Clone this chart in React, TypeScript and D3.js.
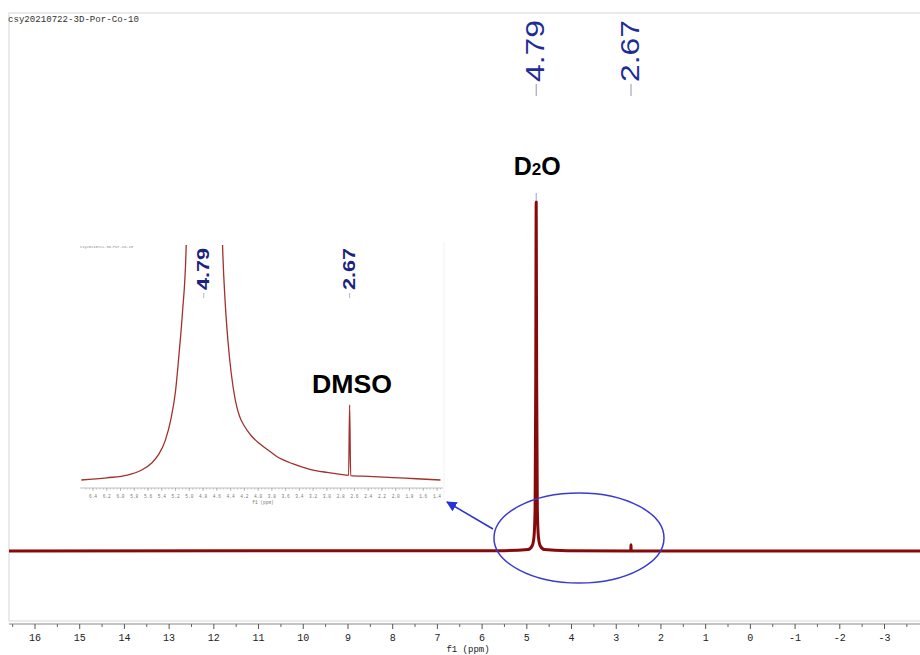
import React from "react";
import * as d3 from "d3";

// ---------- data ----------
const title = "csy20210722-3D-Por-Co-10";
const axisTicks = [16, 15, 14, 13, 12, 11, 10, 9, 8, 7, 6, 5, 4, 3, 2, 1, 0, -1, -2, -3];
const axisLabel = "f1 (ppm)";

// main spectrum (ppm, relative intensity; D2O apex = 100)
const mainPpm = [16.6, 5.5, 4.97, 4.88, 4.84, 4.815, 4.8, 4.79, 4.78, 4.765, 4.74, 4.7, 4.61, 4.1, 2.68, 2.672, 2.67, 2.668, 2.66, -3.9];
const mainInt = [0, 0.1, 0.4, 1.5, 4, 12, 50, 100, 50, 12, 4, 1.5, 0.4, 0.1, 0, 0.6, 1.8, 0.6, 0, 0];
const mainPeaks = [4.79, 2.67];
const mainPeakText = ["4.79", "2.67"];

// inset (zoomed 6.6 – 1.35 ppm; inset axis top = 100)
const insetPpm = [6.57, 6.2, 5.9, 5.7, 5.55, 5.45, 5.35, 5.27, 5.2, 5.15, 5.1, 5.045, 4.95, 4.79, 4.62, 4.517, 4.48, 4.44, 4.39, 4.33, 4.27, 4.2, 4.1, 3.99, 3.85, 3.74, 3.5, 3.26, 3.0, 2.72, 2.685, 2.67, 2.655, 2.4, 2.04, 1.7, 1.35];
const insetInt = [3.3, 4.2, 5.3, 7.3, 10.2, 13.6, 19.5, 28, 40, 55, 72, 100, 300, 1500, 300, 100, 77, 61, 47, 36, 29.5, 25.5, 21.5, 18.5, 15.5, 13.2, 10, 7.8, 6.4, 5.3, 5.2, 34.2, 5.1, 4.8, 4.3, 3.8, 3.3];
const insetTicks = [6.4, 6.2, 6.0, 5.8, 5.6, 5.4, 5.2, 5.0, 4.8, 4.6, 4.4, 4.2, 4.0, 3.8, 3.6, 3.4, 3.2, 3.0, 2.8, 2.6, 2.4, 2.2, 2.0, 1.8, 1.6, 1.4];
const insetPeaks = [4.79, 2.67];
const insetPeakText = ["4.79", "2.67"];
const solventD2O = "D2O";
const solventDMSO = "DMSO";

// ---------- component ----------
export default function App() {
  const W = 920, H = 655;
  const x = d3.scaleLinear().domain([16, -3]).range([35, 884.5]);
  const y = d3.scaleLinear().domain([0, 100]).range([551, 202]);
  const xi = d3.scaleLinear().domain([6.4, 1.4]).range([93, 437]);
  const yi = d3.scaleLinear().domain([0, 100]).range([488, 245]);

  const mainData = mainPpm.map((p, i) => [p, mainInt[i]] as [number, number]);
  const insetData = insetPpm.map((p, i) => [p, insetInt[i]] as [number, number]);

  const mainLine = d3.line<[number, number]>().x(d => x(d[0])).y(d => y(d[1])).curve(d3.curveMonotoneX);
  const insetLine = d3.line<[number, number]>().x(d => xi(d[0])).y(d => yi(d[1])).curve(d3.curveMonotoneX);

  const minor: number[] = [];
  for (let v = 16.5; v >= -3.5; v -= 1) minor.push(v);
  const insetMinor: number[] = [];
  for (let k = 0; k <= 104; k++) insetMinor.push(6.5 - k * 0.05);

  const mono = "'Liberation Mono', 'DejaVu Sans Mono', monospace";
  const sans = "'Liberation Sans', Arial, sans-serif";
  const axisY = 624;

  return (
    <svg width={W} height={H} style={{ position: "absolute", left: 0, top: 0, background: "#fff" }}>
      <defs>
        <clipPath id="mainClip"><rect x={9} y={13} width={911} height={608} /></clipPath>
        <clipPath id="insetClip"><rect x={78} y={245} width={366} height={250} /></clipPath>
        <marker id="arr" viewBox="0 0 10 10" refX="9" refY="5" markerWidth="7" markerHeight="7" orient="auto">
          <path d="M0,0 L10,5 L0,10 z" fill="#2633d0" />
        </marker>
      </defs>

      {/* frame */}
      <rect x={9} y={13} width={920} height={608} fill="none" stroke="#d6d6d6" strokeWidth={1} />
      <text x={8} y={22} fontFamily={mono} fontSize={9.5} fill="#333" textLength={131} lengthAdjust="spacingAndGlyphs">{title}</text>

      {/* main axis */}
      <line x1={9} x2={920} y1={axisY} y2={axisY} stroke="#8a8a8a" strokeWidth={1} />
      {axisTicks.map(t => (
        <g key={"t" + t}>
          <line x1={x(t)} x2={x(t)} y1={axisY} y2={axisY + 5} stroke="#555" />
          <text x={x(t)} y={641} textAnchor="middle" fontFamily={mono} fontSize={10} fill="#222">{t}</text>
        </g>
      ))}
      {minor.map(t => (
        <line key={"m" + t} x1={x(t)} x2={x(t)} y1={axisY} y2={axisY + 3} stroke="#666" />
      ))}
      <text x={468} y={652} textAnchor="middle" fontFamily={mono} fontSize={9} fill="#222">{axisLabel}</text>

      {/* main spectrum */}
      <path d={mainLine(mainData) || ""} fill="none" stroke="#860a0a" strokeWidth={3} strokeLinejoin="round" clipPath="url(#mainClip)" />

      {/* main peak labels */}
      {mainPeaks.map((p, i) => (
        <g key={"pl" + i}>
          <text transform={`translate(${x(p) + 8},82) rotate(-90)`} fontFamily={sans} fontSize={25} fill="#1e2c96" textLength={62} lengthAdjust="spacingAndGlyphs">{mainPeakText[i]}</text>
          <line x1={x(p)} x2={x(p)} y1={84} y2={96} stroke="#8f94b8" strokeWidth={1} />
        </g>
      ))}

      {/* D2O label */}
      <text x={x(mainPeaks[0]) + 1} y={175} textAnchor="middle" fontFamily={sans} fontWeight="bold" fontSize={25} fill="#000">
        {solventD2O[0]}<tspan fontSize={17}>{solventD2O[1]}</tspan>{solventD2O[2]}
      </text>
      <line x1={x(mainPeaks[0])} x2={x(mainPeaks[0])} y1={193} y2={201} stroke="#9aa0c8" strokeWidth={1} />

      {/* ellipse and arrow */}
      <ellipse cx={579} cy={538} rx={85} ry={45} fill="none" stroke="#3a3ad0" strokeWidth={1.5} />
      <line x1={493} y1={529} x2={447} y2={502} stroke="#2633d0" strokeWidth={1.5} markerEnd="url(#arr)" />

      {/* inset */}
      <line x1={444} x2={444} y1={242} y2={500} stroke="#f2f2f2" strokeWidth={1} />
      <text x={80} y={248} fontFamily={mono} fontSize={3.8} fill="#888" textLength={53} lengthAdjust="spacingAndGlyphs">{title}</text>
      <path d={insetLine(insetData) || ""} fill="none" stroke="#a3302c" strokeWidth={1.3} clipPath="url(#insetClip)" />
      <line x1={80} x2={443} y1={488} y2={488} stroke="#b0b0b0" strokeWidth={0.8} />
      {insetMinor.filter(t => xi(t) >= 80 && xi(t) <= 443).map((t, k) => (
        <line key={"im" + k} x1={xi(t)} x2={xi(t)} y1={488} y2={489.6} stroke="#aaa" strokeWidth={0.6} />
      ))}
      {insetTicks.map(t => (
        <g key={"it" + t}>
          <line x1={xi(t)} x2={xi(t)} y1={488} y2={491} stroke="#999" strokeWidth={0.6} />
          <text x={xi(t)} y={498} textAnchor="middle" fontFamily={mono} fontSize={4.5} fill="#777">{t.toFixed(1)}</text>
        </g>
      ))}
      <text x={263} y={504} textAnchor="middle" fontFamily={mono} fontSize={4.5} fill="#777">{axisLabel}</text>
      {insetPeaks.map((p, i) => (
        <g key={"ip" + i}>
          <text transform={`translate(${xi(p) + 5.5},290) rotate(-90)`} fontFamily={sans} fontWeight="bold" fontSize={17} fill="#1a237e" textLength={42} lengthAdjust="spacingAndGlyphs">{insetPeakText[i]}</text>
          <line x1={xi(p)} x2={xi(p)} y1={293} y2={298} stroke="#9aa0c8" strokeWidth={0.8} />
        </g>
      ))}
      <text x={352} y={393} textAnchor="middle" fontFamily={sans} fontWeight="bold" fontSize={25} fill="#000" textLength={80} lengthAdjust="spacingAndGlyphs">{solventDMSO}</text>
    </svg>
  );
}
